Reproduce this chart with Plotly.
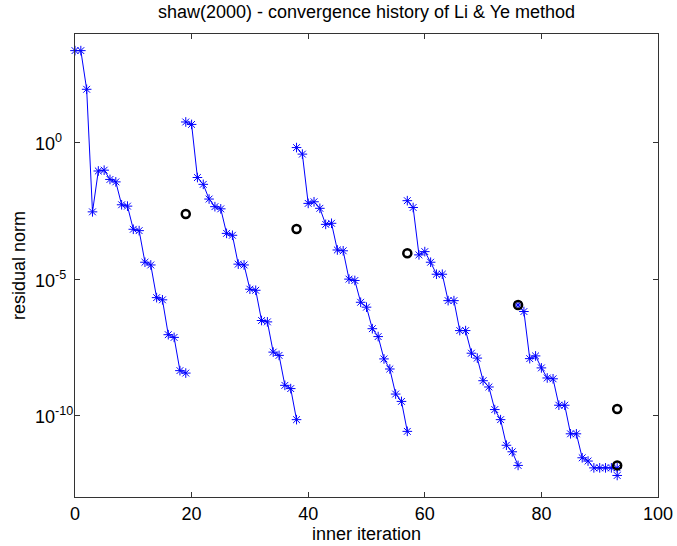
import plotly.graph_objects as go

# Iteration indices and log10 residual norms for each inner-iteration run
seg1_x = list(range(0, 20))
seg1_log = [3.39, 3.39, 1.97, -2.53, -1.03, -1.00, -1.34, -1.43, -2.27, -2.32,
            -3.17, -3.22, -4.38, -4.48, -5.68, -5.76, -7.04, -7.14, -8.36, -8.45]

seg2_x = list(range(19, 39))
seg2_log = [0.77, 0.68, -1.27, -1.52, -2.06, -2.34, -2.42, -3.32, -3.39, -4.45,
            -4.48, -5.37, -5.41, -6.52, -6.57, -7.68, -7.80, -8.90, -9.02, -10.16]

seg3_x = list(range(38, 58))
seg3_log = [-0.17, -0.41, -2.22, -2.16, -2.40, -2.99, -2.95, -3.93, -3.96, -5.00,
            -5.05, -5.85, -6.03, -6.82, -7.11, -7.93, -8.30, -9.22, -9.49, -10.59]

seg4_x = list(range(57, 77))
seg4_log = [-2.12, -2.37, -4.11, -3.99, -4.38, -4.82, -4.82, -5.79, -5.79, -6.89,
            -6.89, -7.72, -7.90, -8.73, -8.96, -9.79, -10.16, -11.10, -11.34, -11.84]

seg5_x = list(range(76, 94))
seg5_log = [-5.95, -6.19, -7.92, -7.82, -8.26, -8.63, -8.66, -9.63, -9.63, -10.68,
            -10.68, -11.56, -11.68, -11.93, -11.93, -11.93, -11.93, -11.93]

seg6_x = [93]
seg6_log = [-12.21]

# Outer-iteration markers (circles)
outer_x = [19, 38, 57, 76, 93, 93]
outer_log = [-2.61, -3.16, -4.05, -5.95, -9.77, -11.84]

x_ticks = [0, 20, 40, 60, 80, 100]
y_tick_exps = [0, -5, -10]
y_tick_labels = ["10<sup>0</sup>", "10<sup>-5</sup>", "10<sup>-10</sup>"]

segments = [(seg1_x, seg1_log), (seg2_x, seg2_log), (seg3_x, seg3_log),
            (seg4_x, seg4_log), (seg5_x, seg5_log), (seg6_x, seg6_log)]

W, H = 677, 546
L, R, T, B = 75, 19, 34, 49
font_family = "Liberation Sans, Arial, sans-serif"
axis_col = "#333333"

fig = go.Figure()
for xs, ls in segments:
    fig.add_trace(go.Scatter(
        x=xs, y=[10 ** v for v in ls], mode="lines+markers",
        line=dict(color="#0000ff", width=1),
        marker=dict(symbol="asterisk-open", size=8,
                    line=dict(color="#0000ff", width=1)),
        showlegend=False, cliponaxis=False))

fig.add_trace(go.Scatter(
    x=outer_x, y=[10 ** v for v in outer_log], mode="markers",
    marker=dict(symbol="circle-open", size=8, color="black",
                line=dict(color="black", width=2.5)),
    showlegend=False, cliponaxis=False))

# y tick labels: MATLAB-style, mantissa left-aligned at a fixed column
for e, txt in zip(y_tick_exps, y_tick_labels):
    fig.add_annotation(text=txt, xref="paper", yref="y",
                       x=(33 - L) / (W - L - R), y=e,
                       xanchor="left", yanchor="middle", showarrow=False,
                       font=dict(size=18, family=font_family, color="black"))

fig.update_layout(
    width=W, height=H,
    margin=dict(l=L, r=R, t=T, b=B, autoexpand=False),
    paper_bgcolor="white", plot_bgcolor="white",
    font=dict(family=font_family, color="black"),
    title=dict(text="shaw(2000) - convergence history of Li &amp; Ye method",
               x=(L + (W - R)) / 2 / W, xanchor="center",
               y=1 - 12 / H, yanchor="middle", automargin=False,
               font=dict(size=18, family=font_family, color="black")),
    xaxis=dict(range=[0, 100], tickvals=x_ticks, ticks="inside", ticklen=5,
               tickcolor=axis_col, showline=True, linecolor=axis_col,
               linewidth=1, mirror="ticks", showgrid=False, zeroline=False,
               automargin=False,
               tickfont=dict(size=18, family=font_family, color="black"),
               title=dict(text="inner iteration", standoff=2,
                          font=dict(size=18, family=font_family,
                                    color="black"))),
    yaxis=dict(type="log", range=[-13, 4], tickvals=[10 ** e for e in y_tick_exps],
               showticklabels=False, ticks="inside", ticklen=5,
               tickcolor=axis_col, showline=True, linecolor=axis_col,
               linewidth=1, mirror="ticks", showgrid=False, zeroline=False,
               automargin=False),
)

# y axis title as rotated text placed in the left margin
fig.add_annotation(text="residual norm", xref="paper", yref="paper",
                   x=(18.5 - L) / (W - L - R), y=0.5, textangle=-90,
                   xanchor="center", yanchor="middle", showarrow=False,
                   font=dict(size=18, family=font_family, color="black"))

fig.write_html("out.html",
               config={"displayModeBar": False},
               post_script="document.body.style.margin='0';"
                           "document.body.style.overflow='hidden';")
